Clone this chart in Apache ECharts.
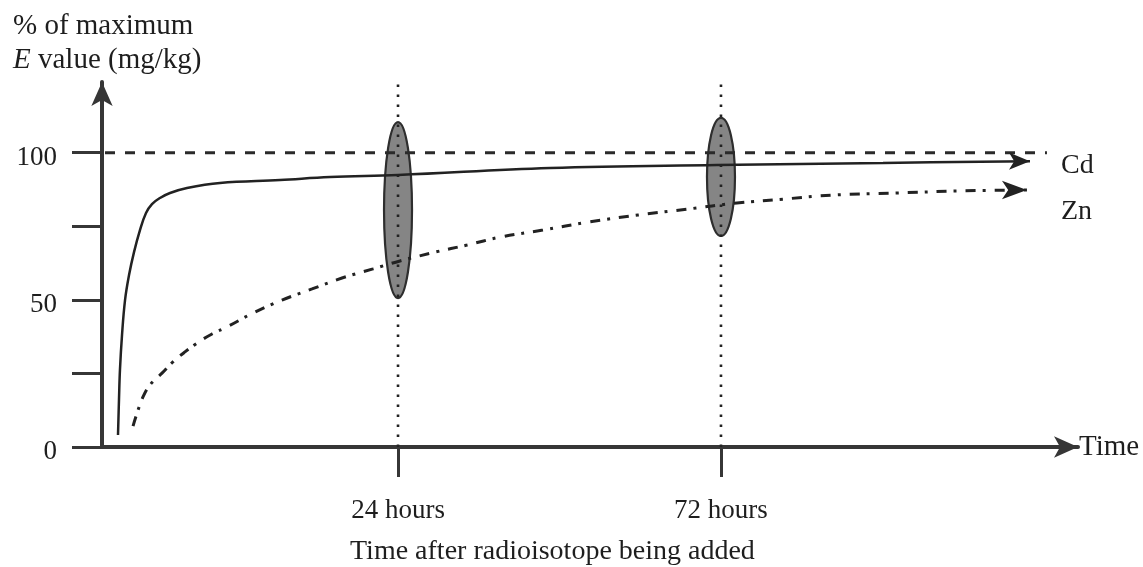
<!DOCTYPE html>
<html>
<head>
<meta charset="utf-8">
<script src="https://cdn.jsdelivr.net/npm/echarts@6/dist/echarts.min.js"></script>
<style>
  html, body { margin: 0; padding: 0; background: #fff; }
  #chart { width: 1143px; height: 567px; }
</style>
</head>
<body>
<div id="chart"></div>
<script>
// Schematic time axis: 0–100 position units (not linear in hours)
const cdX = [1.64, 1.74, 1.84, 2.05, 2.36, 2.77, 3.28, 3.89, 4.51, 5.12, 5.94, 6.97, 8.71, 12.09, 18.24, 23.36, 30.33, 45.90, 63.01, 80.02, 95.08];
const cdY = [4.1, 16.0, 26.2, 38.0, 49.9, 58.4, 66.2, 73.7, 79.5, 82.5, 84.6, 86.3, 88.0, 89.7, 90.7, 91.7, 92.4, 94.8, 95.8, 96.5, 97.1];

const znX = [3.18, 3.59, 4.20, 4.92, 6.15, 7.27, 8.50, 9.73, 11.27, 12.81, 15.47, 18.44, 21.52, 24.59, 27.77, 30.53, 34.12, 37.40, 40.78, 45.18, 49.80, 54.92, 59.94, 65.06, 69.77, 74.90, 81.45, 87.91, 94.77];
const znY = [7.1, 11.5, 17.0, 21.1, 25.1, 28.9, 32.3, 35.3, 38.4, 40.8, 45.5, 49.9, 53.7, 57.4, 60.5, 63.2, 66.2, 68.6, 71.3, 73.7, 76.4, 78.8, 80.8, 82.9, 84.2, 85.6, 86.3, 87.0, 87.3];

// 100 % reference level
const maxLevel = 100;
const maxLineX = [0.31, 96.82];

// Sampling times and the spread of values observed there
const timeTickPos = [30.33, 63.42];
const timeTickLabels = ['24 hours', '72 hours'];
const spreadLow = [50.6, 71.7];
const spreadHigh = [110.4, 111.8];

const yTicks = [0, 25, 50, 75, 100];
const yLabels = [0, 50, 100];

const FONT = '"Liberation Serif", "Times New Roman", serif';
const INK = '#1e1e1e';
const AXIS = '#363636';

function pairs(xs, ys) { return xs.map((x, i) => [x, ys[i]]); }
function arrowAtEnd(len) {
  return (v, p) => (p.dataIndex === len - 1 ? 'arrow' : 'none');
}

const chart = echarts.init(document.getElementById('chart'), null, { renderer: 'canvas' });

chart.setOption({
  animation: false,
  backgroundColor: '#fff',
  title: [
    {
      left: 13, top: 9, padding: 0,
      text: '% of maximum\n{i|E} value (mg/kg)',
      textStyle: {
        fontFamily: FONT, fontSize: 29, fontWeight: 'normal', color: INK, lineHeight: 34,
        rich: { i: { fontFamily: FONT, fontSize: 29, fontStyle: 'italic', color: INK, lineHeight: 34 } }
      }
    },
    {
      left: 350, top: 538, padding: 0,
      text: 'Time after radioisotope being added',
      textStyle: { fontFamily: FONT, fontSize: 28, fontWeight: 'normal', color: INK }
    }
  ],
  grid: { left: 102, right: 65, top: 82, bottom: 120, outerBoundsMode: 'none' },
  xAxis: {
    type: 'value', min: 0, max: 100,
    splitLine: { show: false },
    axisLine: {
      show: true, onZero: false,
      lineStyle: { color: AXIS, width: 4 },
      symbol: ['none', 'arrow'], symbolSize: [16, 24]
    },
    axisTick: { show: true, customValues: timeTickPos, length: 30, lineStyle: { color: AXIS, width: 3 } },
    axisLabel: {
      customValues: timeTickPos, margin: 50,
      fontFamily: FONT, fontSize: 27, color: INK,
      formatter: function (v) {
        let best = 0;
        timeTickPos.forEach((p, i) => { if (Math.abs(p - v) < Math.abs(timeTickPos[best] - v)) best = i; });
        return timeTickLabels[best];
      }
    },
    name: 'Time', nameLocation: 'end', nameGap: 1,
    nameTextStyle: { fontFamily: FONT, fontSize: 29, color: INK, verticalAlign: 'middle' }
  },
  yAxis: {
    type: 'value', min: 0, max: 124,
    splitLine: { show: false },
    axisLine: {
      show: true, onZero: false,
      lineStyle: { color: AXIS, width: 4 },
      symbol: ['none', 'arrow'], symbolSize: [16, 24]
    },
    axisTick: { show: true, customValues: yTicks, length: 30, lineStyle: { color: AXIS, width: 3 } },
    axisLabel: {
      customValues: yLabels, margin: 45,
      formatter: v => '{s| }\n{a|' + v + '}',
      rich: {
        s: { fontSize: 10, lineHeight: 10, height: 10 },
        a: { fontFamily: FONT, fontSize: 27, color: INK, lineHeight: 28 }
      }
    }
  },
  series: [
    {
      name: 'spread', type: 'custom', z: 2, silent: true, clip: false,
      data: timeTickPos.map((x, i) => [x, spreadLow[i], spreadHigh[i]]),
      renderItem: function (params, api) {
        const x = api.value(0);
        const pLo = api.coord([x, api.value(1)]);
        const pHi = api.coord([x, api.value(2)]);
        const base = api.coord([x, 0]);
        return {
          type: 'group',
          children: [
            {
              type: 'ellipse',
              shape: { cx: pLo[0], cy: (pLo[1] + pHi[1]) / 2, rx: 14, ry: (pLo[1] - pHi[1]) / 2 },
              style: { fill: '#858585', stroke: '#2e2e2e', lineWidth: 2.2 }
            },
            {
              type: 'line',
              shape: { x1: base[0], y1: base[1], x2: base[0], y2: 78 },
              style: { stroke: '#222', lineWidth: 2.6, lineDash: [2.6, 7.4] }
            }
          ]
        };
      }
    },
    {
      name: 'max', type: 'line', z: 3, silent: true,
      data: maxLineX.map(x => [x, maxLevel]),
      symbol: 'none',
      lineStyle: { color: '#2a2a2a', width: 3, type: [10, 10] }
    },
    {
      name: 'Cd', type: 'line', z: 4, silent: true,
      data: pairs(cdX, cdY),
      smooth: 0.4,
      symbol: arrowAtEnd(cdX.length), symbolSize: [13, 21], symbolRotate: -90,
      itemStyle: { color: '#222' },
      lineStyle: { color: '#222', width: 2.5 },
      endLabel: {
        show: true, formatter: '{a}', distance: 31, offset: [0, 4],
        fontFamily: FONT, fontSize: 28, color: INK
      }
    },
    {
      name: 'Zn', type: 'line', z: 4, silent: true,
      data: pairs(znX, znY),
      smooth: 0.4,
      symbol: arrowAtEnd(znX.length), symbolSize: [14, 25], symbolRotate: -90,
      itemStyle: { color: '#222' },
      lineStyle: { color: '#222', width: 3, type: [10, 7, 3, 9] },
      endLabel: {
        show: true, formatter: '{a}', distance: 34, offset: [0, 22],
        fontFamily: FONT, fontSize: 28, color: INK
      }
    }
  ]
});
</script>
</body>
</html>
